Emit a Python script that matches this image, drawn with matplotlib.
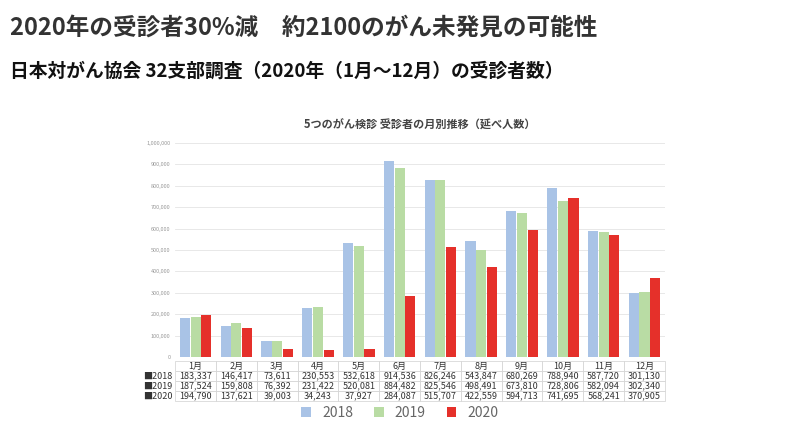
import numpy as np
import matplotlib.pyplot as plt

plt.rcParams['font.family'] = 'Noto Sans CJK JP'

months = ['1月', '2月', '3月', '4月', '5月', '6月', '7月', '8月', '9月', '10月', '11月', '12月']
years = ['2018', '2019', '2020']
v2018 = [183337, 146417, 73611, 230553, 532618, 914536, 826246, 543847, 680269, 788940, 587720, 301130]
v2019 = [187524, 159808, 76392, 231422, 520081, 884482, 825546, 498491, 673810, 728806, 582094, 302340]
v2020 = [194790, 137621, 39003, 34243, 37927, 284087, 515707, 422559, 594713, 741695, 568241, 370905]
colors = ['#a9c3e6', '#b9dca4', '#e5302a']

fig = plt.figure(figsize=(8, 4.28), dpi=100)
fig.text(0.012, 0.92, '2020年の受診者30%減　約2100のがん未発見の可能性',
         fontsize=17, fontweight='bold', color='#333333')
fig.text(0.012, 0.82, '日本対がん協会 32支部調査（2020年（1月〜12月）の受診者数）',
         fontsize=13.5, fontweight='bold', color='#111111')

ax = fig.add_axes([0.219, 0.166, 0.612, 0.5])
x = np.arange(len(months))
w = 0.25
for i, (vals, yr) in enumerate(zip([v2018, v2019, v2020], years)):
    ax.bar(x + (i - 1) * w * 1.05, vals, w, color=colors[i], label=yr, zorder=3)

ax.set_xlim(-0.5, 11.5)
ax.set_ylim(0, 1000000)
ax.set_yticks(np.arange(0, 1000001, 100000))
ax.set_yticklabels([f'{t:,}' for t in range(0, 1000001, 100000)], fontsize=4, color='#999999')
ax.set_xticks([])
ax.grid(axis='y', color='#e4e4e4', lw=0.6, zorder=0)
ax.tick_params(axis='y', length=0)
for s in ax.spines.values():
    s.set_visible(False)
ax.set_title('5つのがん検診 受診者の月別推移（延べ人数）', fontsize=8, fontweight='bold',
             color='#444444', pad=10)

cells = [[f'{v:,}' for v in vals] for vals in [v2018, v2019, v2020]]
tbl = ax.table(cellText=cells, rowLabels=['■' + y for y in years], colLabels=months,
               cellLoc='center', bbox=[0, -0.205, 1, 0.185])
tbl.auto_set_font_size(False)
tbl.set_fontsize(6.5)
for (r, c), cell in tbl.get_celld().items():
    cell.set_edgecolor('#d0d0d0')
    cell.set_linewidth(0.5)
    cell.get_text().set_color('#333333')
    if c == -1:
        cell.set_edgecolor('white')

leg = fig.legend(loc='lower center', bbox_to_anchor=(0.5, -0.01), ncol=3, frameon=False,
                 fontsize=10, handlelength=0.7, handleheight=0.7, columnspacing=1.5)
for t in leg.get_texts():
    t.set_color('#666666')

fig.savefig('out.png', dpi=100)
